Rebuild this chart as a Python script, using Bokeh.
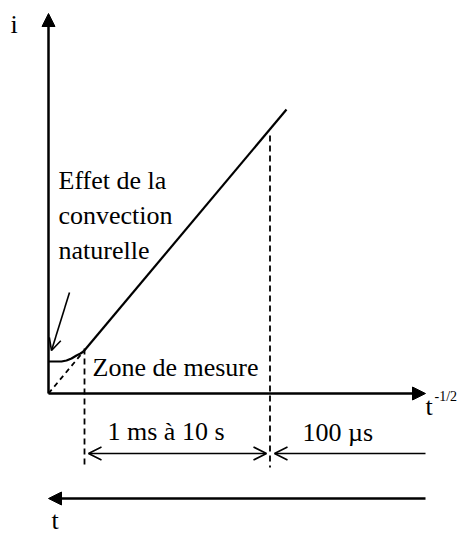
from bokeh.plotting import figure
from bokeh.models import Range1d, Arrow, OpenHead, NormalHead
from bokeh.core.properties import value
from bokeh.embed import file_html
from bokeh.resources import INLINE

# Schematic data (arbitrary units: x ~ t^-1/2, y ~ i)
line_x = [35, 238]
line_y = [42, 284]
extrap_x = [0, 35]
extrap_y = [0, 42]
conv_x = [0, 13, 18, 23, 28, 32, 35]
conv_y = [32, 32, 33, 35, 38, 40, 42]
x_axis_max = 377
y_axis_max = 380
zone_start = 36
zone_end = 221.5
zone_top = [45, 258]
scale_bottom = -74
label_effect = ["Effet de la", "convection", "naturelle"]
label_zone = "Zone de mesure"
label_range = "1 ms à 10 s"
label_short = "100 µs"
label_x = "t"
label_x_exp = "-1/2"
label_y = "i"
label_t = "t"

FONT = value("Liberation Serif")

p = figure(width=458, height=536, x_range=Range1d(-48, 410), y_range=Range1d(-143, 393),
           output_backend="svg", toolbar_location=None,
           x_axis_location=None, y_axis_location=None,
           min_border=0, min_border_left=0, min_border_right=0,
           min_border_top=0, min_border_bottom=0)
p.grid.visible = False
p.outline_line_color = None
p.background_fill_color = "white"
p.border_fill_color = "white"

# Axes with arrows
p.add_layout(Arrow(x_start=0, y_start=0, x_end=0, y_end=y_axis_max, line_width=2.5,
                   end=NormalHead(size=13, fill_color="black", line_color="black")))
p.add_layout(Arrow(x_start=0, y_start=0, x_end=x_axis_max, y_end=0, line_width=2.5,
                   end=NormalHead(size=13, fill_color="black", line_color="black")))

# Main line and extrapolation
p.line(line_x, line_y, line_color="black", line_width=2.2)
p.line(extrap_x, extrap_y, line_color="black", line_width=1.8, line_dash="5 4")
p.line(conv_x, conv_y, line_color="black", line_width=2.2)

# Vertical dashed markers
p.segment(x0=[zone_start, zone_end], y0=zone_top, x1=[zone_start, zone_end],
          y1=[scale_bottom, scale_bottom], line_color="black", line_width=1.8, line_dash="6 4")

# Annotation arrow for natural convection
p.add_layout(Arrow(x_start=21, y_start=101, x_end=3, y_end=43, line_width=1.6,
                   end=OpenHead(size=12, line_width=1.6)))

# Time scale arrows
p.add_layout(Arrow(x_start=zone_start + 4, y_start=-60, x_end=zone_end - 3.5, y_end=-60,
                   line_width=1.6, start=OpenHead(size=13, line_width=1.6),
                   end=OpenHead(size=13, line_width=1.6)))
p.add_layout(Arrow(x_start=x_axis_max, y_start=-60, x_end=zone_end + 4.5, y_end=-60,
                   line_width=1.6, end=OpenHead(size=13, line_width=1.6)))
p.add_layout(Arrow(x_start=x_axis_max, y_start=-105, x_end=0, y_end=-105, line_width=2.5,
                   end=NormalHead(size=13, fill_color="black", line_color="black")))

# Texts
def txt(x, y, s, size="26px"):
    p.text(x=[x], y=[y], text=[s], text_font=FONT, text_font_size=size,
           text_color="black", text_align="left", text_baseline="alphabetic")

txt(-38, 369, label_y)
for k, s in enumerate(label_effect):
    txt(10, 213 - 35 * k, s)
txt(44, 26, label_zone)
txt(59, -38, label_range)
txt(254, -39, label_short)
txt(377, -13, label_x)
txt(386, -3, label_x_exp, size="14px")
txt(3, -127, label_t)

open("out.html", "w").write(file_html(p, INLINE))
